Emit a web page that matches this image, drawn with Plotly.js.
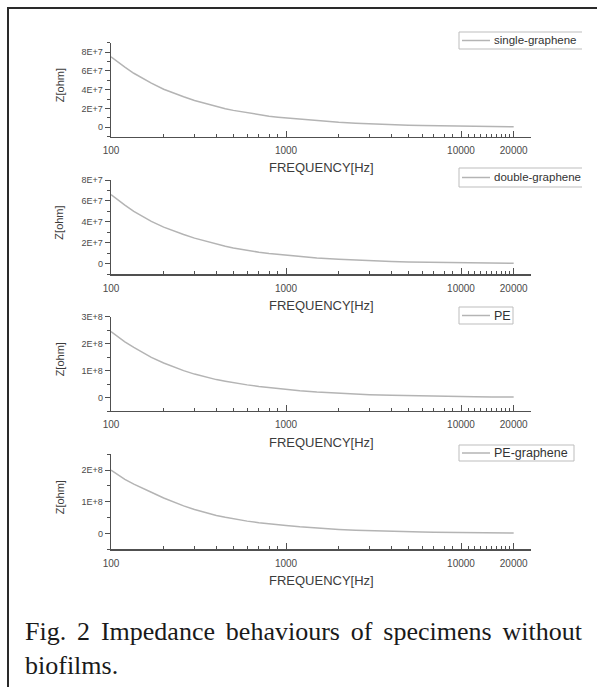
<!DOCTYPE html>
<html>
<head>
<meta charset="utf-8">
<script src="https://cdn.plot.ly/plotly-3.0.1.min.js"></script>
<style>
  html, body { margin: 0; padding: 0; background: #fff; }
  body { width: 597px; height: 687px; position: relative; overflow: hidden; }
  #clip { position: absolute; left: 0; top: 0; width: 582px; height: 687px; overflow: hidden; }
  #plot { width: 597px; height: 687px; }
  #frame { position: absolute; left: 7px; top: 7px; width: 600px; height: 700px;
           border-top: 2px solid #2a2a2a; border-left: 2px solid #2a2a2a; pointer-events: none; }
  #caption { position: absolute; left: 25px; top: 615px; width: 557px;
             font-family: "Liberation Serif", "Times New Roman", serif; font-size: 26px;
             line-height: 34px; color: #1a1a1a; text-align: justify; text-align-last: left; }
</style>
</head>
<body>
<div id="clip"><div id="plot"></div></div>
<div id="frame"></div>
<div id="caption">Fig. 2 Impedance behaviours of specimens without biofilms.</div>
<script>
// ---- data ----
const freq = [100, 110, 120, 135, 150, 170, 200, 230, 260, 300, 350, 400, 450, 500, 600, 700, 800, 900, 1000,
              1200, 1500, 2000, 2500, 3000, 4000, 5000, 6000, 7000, 8000, 10000, 12000, 15000, 20000];
const zSingle = [7.5e7, 6.9e7, 6.4e7, 5.75e7, 5.25e7, 4.7e7, 4.05e7, 3.6e7, 3.25e7, 2.85e7, 2.5e7, 2.2e7, 1.98e7, 1.8e7, 1.53e7, 1.33e7, 1.18e7, 1.08e7, 1.0e7,
                 8.5e6, 7.0e6, 5.4e6, 4.4e6, 3.7e6, 2.85e6, 2.3e6, 1.95e6, 1.7e6, 1.5e6, 1.2e6, 1.0e6, 0.8e6, 0.6e6];
const zDouble = [6.6e7, 6.05e7, 5.6e7, 5.0e7, 4.55e7, 4.05e7, 3.5e7, 3.1e7, 2.8e7, 2.45e7, 2.13e7, 1.88e7, 1.68e7, 1.52e7, 1.28e7, 1.11e7, 0.99e7, 0.9e7, 0.82e7,
                 6.9e6, 5.6e6, 4.3e6, 3.5e6, 2.95e6, 2.25e6, 1.82e6, 1.55e6, 1.35e6, 1.2e6, 0.97e6, 0.82e6, 0.66e6, 0.5e6];
const zPE = [2.45e8, 2.25e8, 2.07e8, 1.86e8, 1.68e8, 1.49e8, 1.28e8, 1.12e8, 1.0e8, 0.87e8, 0.75e8, 0.665e8, 0.603e8, 0.55e8, 0.47e8, 0.41e8, 0.365e8, 0.33e8, 0.303e8,
             0.255e8, 0.205e8, 0.155e8, 0.125e8, 0.105e8, 0.08e8, 0.064e8, 0.054e8, 0.046e8, 0.041e8, 0.033e8, 0.028e8, 0.022e8, 0.017e8];
const zPEG = [2.0e8, 1.85e8, 1.71e8, 1.56e8, 1.45e8, 1.3e8, 1.12e8, 0.98e8, 0.87e8, 0.755e8, 0.65e8, 0.57e8, 0.51e8, 0.46e8, 0.39e8, 0.34e8, 0.30e8, 0.27e8, 0.25e8,
              0.21e8, 0.17e8, 0.128e8, 0.103e8, 0.087e8, 0.066e8, 0.053e8, 0.045e8, 0.039e8, 0.034e8, 0.027e8, 0.023e8, 0.018e8, 0.014e8];
const seriesNames = ["single-graphene", "double-graphene", "PE", "PE-graphene"];

const xTickVals = [100, 1000, 10000, 20000];
const xTickText = ["100", "1000", "10000", "20000"];
const xMinorVals = [200, 300, 400, 500, 600, 700, 800, 900, 2000, 3000, 4000, 5000, 6000, 7000, 8000, 9000,
                    11000, 12000, 13000, 14000, 15000, 16000, 17000, 18000, 19000];
const yTicks1 = [0, 2e7, 4e7, 6e7, 8e7];
const yText1 = ["0", "2E+7", "4E+7", "6E+7", "8E+7"];
const yMinor1 = [-1e7, 1e7, 3e7, 5e7, 7e7, 9e7];
const yTicks3 = [0, 1e8, 2e8, 3e8];
const yText3 = ["0", "1E+8", "2E+8", "3E+8"];
const yTicks4 = [0, 1e8, 2e8];
const yText4 = ["0", "1E+8", "2E+8"];
const yMinor3 = [-0.5e8, 0.5e8, 1.5e8, 2.5e8];
const xTitle = "FREQUENCY[Hz]";
const yTitle = "Z[ohm]";

// ---- layout helpers (pixel -> paper) ----
const W = 597, H = 687;
const px = x => x / W;
const py = y => 1 - y / H;

const panels = [
  {top: 42.7, bot: 136.7, range: [-1e7, 9e7], tv: yTicks1, tt: yText1, mv: yMinor1, leg: {top: 32, bot: 49, right: 640}, fs: 11.5},
  {top: 180, bot: 274.3, range: [-1e7, 8e7], tv: yTicks1, tt: yText1, mv: yMinor1, leg: {top: 168, bot: 187, right: 640}, fs: 11.5},
  {top: 316.7, bot: 411, range: [-0.5e8, 3e8], tv: yTicks3, tt: yText3, mv: yMinor3, leg: {top: 307, bot: 324, right: 513}, fs: 12.5},
  {top: 454.3, bot: 549.3, range: [-0.5e8, 2.5e8], tv: yTicks4, tt: yText4, mv: yMinor3, leg: {top: 445, bot: 461, right: 574}, fs: 12.5}
];
const values = [zSingle, zDouble, zPE, zPEG];

const axisColor = "#505050";
const curveColor = "#b4b4b4";
const fontFam = "Liberation Sans, Arial, sans-serif";

const data = [];
const layout = {
  width: W, height: H,
  margin: {l: 0, r: 0, t: 0, b: 0, autoexpand: false},
  paper_bgcolor: "#ffffff", plot_bgcolor: "rgba(0,0,0,0)",
  showlegend: false,
  shapes: [], annotations: []
};

panels.forEach((p, i) => {
  const n = i === 0 ? "" : String(i + 1);
  data.push({
    type: "scatter", mode: "lines", name: seriesNames[i],
    x: freq, y: values[i],
    xaxis: "x" + n, yaxis: "y" + n,
    line: {color: curveColor, width: 1.5},
    hoverinfo: "skip"
  });
  layout["xaxis" + n] = {
    type: "log", range: [2, 4.4], domain: [px(111), px(531)], anchor: "y" + n,
    tickmode: "array", tickvals: xTickVals, ticktext: xTickText,
    ticks: "inside", ticklen: 6, tickwidth: 1, tickcolor: axisColor,
    minor: {tickmode: "array", tickvals: xMinorVals, ticks: "inside", ticklen: 3, tickwidth: 1, tickcolor: axisColor, showgrid: false},
    ticklabelstandoff: 4,
    showline: true, linecolor: axisColor, linewidth: 1.3,
    showgrid: false, zeroline: false,
    tickfont: {family: fontFam, size: 10, color: "#4a4a4a"},
    fixedrange: true
  };
  layout["yaxis" + n] = {
    range: p.range, domain: [py(p.bot), py(p.top)], anchor: "x" + n,
    tickmode: "array", tickvals: p.tv, ticktext: p.tt,
    ticks: "outside", ticklen: 5, tickwidth: 1, tickcolor: axisColor,
    minor: {tickmode: "array", tickvals: p.mv, ticks: "outside", ticklen: 3, tickwidth: 1, tickcolor: axisColor, showgrid: false},
    showline: true, linecolor: axisColor, linewidth: 1.3,
    showgrid: false, zeroline: false,
    tickfont: {family: fontFam, size: 9, color: "#4a4a4a"},
    fixedrange: true
  };
  // axis titles
  layout.annotations.push({
    xref: "paper", yref: "paper", x: px(321), y: py(p.bot + 31),
    xanchor: "center", yanchor: "middle", showarrow: false,
    text: xTitle, font: {family: fontFam, size: 13, color: "#3c3c3c"}
  });
  layout.annotations.push({
    xref: "paper", yref: "paper", x: px(59.5), y: py((p.top + p.bot) / 2 - 4),
    xanchor: "center", yanchor: "middle", showarrow: false, textangle: -90,
    text: yTitle, font: {family: fontFam, size: 11, color: "#3c3c3c"}
  });
  // legend box
  const L = p.leg, cy = (L.top + L.bot) / 2;
  layout.shapes.push({
    type: "rect", xref: "paper", yref: "paper",
    x0: px(459), x1: px(L.right), y0: py(L.bot), y1: py(L.top),
    line: {color: "#bdbdbd", width: 1}, fillcolor: "#ffffff", layer: "above"
  });
  layout.shapes.push({
    type: "line", xref: "paper", yref: "paper",
    x0: px(462), x1: px(490), y0: py(cy), y1: py(cy),
    line: {color: curveColor, width: 1.5}, layer: "above"
  });
  layout.annotations.push({
    xref: "paper", yref: "paper", x: px(493), y: py(cy),
    xanchor: "left", yanchor: "middle", showarrow: false, borderpad: 0,
    text: seriesNames[i], font: {family: fontFam, size: p.fs, color: "#333333"}
  });
});

Plotly.newPlot("plot", data, layout, {displayModeBar: false, staticPlot: true});
</script>
</body>
</html>
